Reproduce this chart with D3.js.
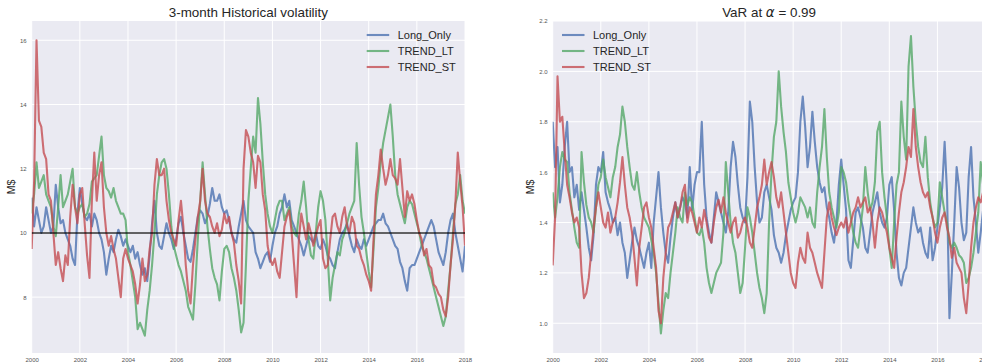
<!DOCTYPE html>
<html>
<head>
<meta charset="utf-8">
<script src="https://cdn.jsdelivr.net/npm/d3@7/dist/d3.min.js"></script>
<style>
  body { margin: 0; background: #fff; }
  svg { display: block; }
  text { font-family: "Liberation Sans", Arial, sans-serif; }
</style>
</head>
<body>
<svg id="chart" width="982" height="364"></svg>
<script>
// --- data, one value every 0.1 year from 2000.0 to 2018.0 ---
const seriesNames = ["Long_Only", "TREND_LT", "TREND_ST"];
const startYear = 2000;
const stepYear = 0.1;
const xTicks = [2000, 2002, 2004, 2006, 2008, 2010, 2012, 2014, 2016, 2018];
const volTicks = [8, 10, 12, 14, 16];
const varTicks = [1.0, 1.2, 1.4, 1.6, 1.8, 2.0, 2.2];
const volTarget = 10;

// 3-month historical volatility (M$)
const volLongOnly = [
  11.1, 10.2, 10.8, 10.4, 10.0, 10.2, 10.8, 10.4, 10.0, 10.2,
  11.5, 10.8, 10.3, 10.4, 10.0, 9.8, 9.6, 9.2, 9.0, 10.6,
  11.4, 10.9, 10.5, 10.4, 10.6, 10.2, 10.6, 10.4, 10.0, 9.8,
  9.4, 8.7, 9.2, 9.6, 9.4, 9.8, 10.1, 9.9, 9.6, 9.8,
  9.6, 9.4, 9.6, 9.2, 9.4, 9.0, 8.7, 8.9, 8.5, 9.3,
  10.3, 11.0, 10.0, 9.6, 9.5, 9.9, 10.3, 10.0, 9.8, 9.5,
  9.8, 10.3, 10.5, 10.0, 9.6, 9.2, 9.1, 9.5, 10.0, 10.5,
  10.7, 10.6, 10.3, 10.5, 10.9, 11.4, 11.0, 11.0, 11.2, 10.8,
  10.6, 10.7, 10.4, 10.0, 9.8, 9.7, 10.2, 10.6, 11.0, 10.4,
  10.2, 10.1, 10.0, 9.4, 9.2, 8.9, 9.1, 9.3, 9.4, 9.1,
  9.6, 10.0, 10.2, 10.6, 10.8, 11.2, 10.8, 11.0, 10.4, 10.2,
  10.0, 9.8, 9.6, 9.3, 9.6, 9.9, 9.8, 9.7, 10.0, 9.6,
  9.5, 9.8, 9.6, 9.3, 9.2, 9.0, 8.9, 9.4, 9.8, 10.0,
  10.1, 10.3, 9.9, 9.6, 9.4, 9.8, 9.6, 9.5, 9.8, 9.6,
  9.8, 10.0, 10.2, 10.3, 10.4, 10.4, 10.6, 10.3, 10.2, 10.0,
  9.8, 9.6, 9.5, 9.1, 8.9, 8.5, 8.2, 8.9, 9.0, 9.0,
  9.2, 9.4, 9.6, 9.8, 10.0, 10.2, 10.4, 10.2, 9.8, 9.4,
  9.2, 9.0, 9.4, 10.0, 10.4, 10.6, 10.0, 9.6, 9.2, 8.8,
  9.6
];
const volTrendLT = [
  10.6, 11.2, 12.2, 11.4, 11.6, 11.8, 11.2, 11.0, 10.8, 10.2,
  9.9, 10.8, 11.8, 10.8, 11.0, 11.2, 11.6, 12.0, 10.8, 10.6,
  10.8, 10.9, 10.5, 10.6, 10.9, 11.6, 11.7, 11.8, 12.4, 13.0,
  11.8, 11.4, 11.3, 11.1, 11.4, 11.0, 10.8, 10.6, 10.6, 10.4,
  9.4, 9.0, 8.5, 8.0, 7.0, 7.2, 7.0, 6.8, 7.6, 8.2,
  9.0, 10.0, 11.2, 11.8, 12.2, 12.3, 12.0, 11.2, 10.2, 9.6,
  9.3, 9.0, 8.8, 8.5, 8.2, 7.7, 7.5, 7.3, 8.4, 9.8,
  11.0, 12.2, 11.2, 10.2, 9.5, 8.9, 8.6, 8.4, 7.9, 8.8,
  9.5, 9.6, 9.4, 8.9, 8.6, 8.2, 7.6, 6.9, 7.2, 9.0,
  11.0, 12.0, 13.0, 12.5, 14.2, 13.4, 12.2, 11.2, 10.6, 10.2,
  10.0, 10.4, 10.8, 11.0, 11.0, 10.4, 10.6, 10.8, 10.2, 10.0,
  9.9, 10.6, 11.0, 11.6, 10.8, 9.8, 9.3, 9.2, 10.0, 10.8,
  11.3, 11.0, 10.4, 9.2, 7.9, 8.6, 9.0, 9.4, 9.3, 9.8,
  10.0, 10.3, 10.6, 10.8, 11.0, 12.8, 11.5, 10.5, 10.0, 9.4,
  8.8, 8.3, 9.5, 10.8, 11.4, 12.2, 12.8, 13.2, 13.6, 14.0,
  13.0, 11.8, 11.2, 10.9, 10.6, 10.3, 10.8, 11.0, 10.9, 10.6,
  10.3, 10.0, 9.6, 9.4, 9.2, 8.9, 8.6, 8.3, 8.0, 7.7,
  7.4, 7.1, 7.4, 8.2, 9.0, 10.0, 10.9, 11.2, 11.8, 11.0,
  10.6
];
const volTrendST = [
  9.5, 11.6, 16.0, 13.5, 13.3, 12.5, 12.3, 11.2, 11.0, 10.0,
  9.0, 9.4, 8.9, 8.5, 9.3, 9.0, 10.5, 11.5, 10.8, 10.3,
  11.2, 11.4, 10.3, 9.3, 8.6, 11.0, 12.5, 11.0, 11.8, 12.2,
  10.8, 10.0, 9.6, 9.9, 9.5, 9.2, 8.6, 8.0, 9.2, 9.5,
  9.2, 9.0, 8.8, 8.4, 7.8, 8.4, 9.2, 8.5, 8.7, 9.5,
  10.0, 11.5, 12.3, 11.8, 11.8, 12.0, 11.0, 10.4, 10.0, 9.8,
  9.6, 10.4, 11.0, 10.2, 9.0, 8.2, 7.8, 9.0, 9.8, 10.5,
  11.0, 12.0, 11.0, 10.6, 10.5, 10.2, 10.0, 10.3, 9.9, 10.1,
  10.6, 10.3, 10.5, 10.0, 9.7, 9.0, 8.5, 7.8, 12.0, 13.2,
  13.0, 12.5, 12.2, 11.4, 12.4, 12.2, 11.2, 10.7, 9.6, 9.2,
  9.0, 9.2, 8.8, 8.6, 9.4, 10.2, 10.5, 10.7, 10.0, 9.0,
  8.0, 9.8, 10.6, 10.2, 9.8, 10.3, 10.0, 9.6, 9.9, 10.2,
  10.4, 9.2, 8.9, 9.0, 9.8, 10.5, 10.6, 10.2, 10.0, 10.5,
  10.8, 10.2, 10.0, 10.5, 10.3, 9.6, 9.5, 9.2, 9.0, 8.7,
  8.5, 8.2, 9.8, 11.2, 11.8, 12.6, 12.0, 11.5, 11.8, 12.3,
  11.8, 11.7, 11.5, 12.3, 11.4, 10.5, 11.3, 11.0, 11.2, 10.9,
  10.4, 10.0, 9.8, 9.3, 9.5, 9.0, 8.9, 8.4, 8.3, 8.1,
  8.0, 7.6, 7.4, 8.0, 9.0, 9.8, 10.9, 12.5, 11.6, 10.8,
  9.6
];

// VaR at alpha = 0.99 (M$)
const varLongOnly = [
  1.80, 1.62, 1.70, 1.48, 1.55, 1.70, 1.80, 1.60, 1.62, 1.50,
  1.55, 1.45, 1.52, 1.45, 1.38, 1.30, 1.25, 1.35, 1.55, 1.62,
  1.60, 1.68, 1.52, 1.48, 1.45, 1.40, 1.42, 1.35, 1.40, 1.32,
  1.28, 1.18, 1.25, 1.32, 1.38, 1.33, 1.30, 1.26, 1.22, 1.28,
  1.32, 1.22, 1.40, 1.50, 1.60, 1.46, 1.36, 1.28, 1.24, 1.34,
  1.42, 1.48, 1.42, 1.46, 1.50, 1.48, 1.42, 1.62, 1.45, 1.55,
  1.60, 1.60, 1.80, 1.55, 1.42, 1.36, 1.32, 1.42, 1.52, 1.48,
  1.44, 1.40, 1.36, 1.44, 1.62, 1.72, 1.66, 1.55, 1.46, 1.42,
  1.40, 1.58, 1.88, 1.80, 1.62, 1.48, 1.40, 1.42, 1.52, 1.55,
  1.50, 1.45, 1.35, 1.30, 1.28, 1.24, 1.28, 1.35, 1.40, 1.45,
  1.48, 1.50, 1.60, 1.80, 1.90, 1.78, 1.62, 1.70, 1.84, 1.72,
  1.62, 1.56, 1.52, 1.54, 1.46, 1.42, 1.36, 1.32, 1.40, 1.55,
  1.65, 1.55, 1.45, 1.25, 1.22, 1.33, 1.44, 1.46, 1.42, 1.38,
  1.30, 1.28, 1.36, 1.44, 1.48, 1.52, 1.44, 1.40, 1.38, 1.42,
  1.55, 1.58, 1.45, 1.28, 1.18, 1.15, 1.20, 1.22, 1.30, 1.38,
  1.46, 1.40, 1.36, 1.38, 1.32, 1.28, 1.26, 1.38, 1.25, 1.30,
  1.38, 1.46, 1.54, 1.72, 1.52, 1.02, 1.20, 1.40, 1.62, 1.54,
  1.40, 1.33, 1.36, 1.58, 1.70, 1.50, 1.40, 1.28, 1.36, 1.45,
  1.40
];
const varTrendLT = [
  1.52, 1.42, 1.50, 1.62, 1.68, 1.65, 1.64, 1.52, 1.45, 1.38,
  1.32, 1.30, 1.68, 1.56, 1.47, 1.42, 1.40, 1.36, 1.46, 1.55,
  1.58, 1.65, 1.58, 1.54, 1.50, 1.58, 1.62, 1.70, 1.75, 1.86,
  1.80, 1.70, 1.62, 1.55, 1.53, 1.60, 1.52, 1.46, 1.42, 1.40,
  1.38, 1.33, 1.28, 1.20, 1.08, 0.96, 1.05, 1.12, 1.10, 1.20,
  1.28, 1.36, 1.46, 1.42, 1.40, 1.52, 1.47, 1.50, 1.48, 1.42,
  1.36, 1.35, 1.38, 1.32, 1.22, 1.16, 1.12, 1.16, 1.20, 1.22,
  1.24, 1.36, 1.64, 1.52, 1.40, 1.32, 1.28, 1.20, 1.12, 1.16,
  1.30, 1.46, 1.42, 1.36, 1.28, 1.20, 1.14, 1.10, 1.04, 1.12,
  1.40, 1.60, 1.74, 1.80, 2.00, 1.86, 1.76, 1.68, 1.56, 1.50,
  1.44, 1.40, 1.44, 1.50, 1.48, 1.46, 1.42, 1.46, 1.40, 1.38,
  1.52, 1.62, 1.70, 1.85, 1.66, 1.52, 1.46, 1.42, 1.38, 1.44,
  1.62, 1.60, 1.56, 1.48, 1.42, 1.36, 1.32, 1.30, 1.38, 1.46,
  1.62, 1.52, 1.45, 1.48, 1.56, 1.76, 1.80, 1.60, 1.50, 1.42,
  1.30, 1.22, 1.40, 1.55, 1.60, 1.88, 1.74, 1.65, 2.02, 2.14,
  1.94, 1.80, 1.70, 1.64, 1.62, 1.74, 1.58, 1.48, 1.42, 1.38,
  1.40, 1.56, 1.50, 1.44, 1.40, 1.32, 1.30, 1.32, 1.30, 1.27,
  1.26, 1.24, 1.16, 1.18, 1.22, 1.28, 1.36, 1.44, 1.64, 1.55,
  1.50
];
const varTrendST = [
  1.23, 1.42, 1.98, 1.80, 1.82, 1.68, 1.55, 1.50, 1.44, 1.40,
  1.42, 1.38, 1.20, 1.10, 1.12, 1.18, 1.28, 1.38, 1.46, 1.52,
  1.46, 1.40, 1.38, 1.44, 1.36, 1.40, 1.42, 1.48, 1.56, 1.66,
  1.55, 1.46, 1.42, 1.36, 1.26, 1.15, 1.30, 1.38, 1.46, 1.48,
  1.42, 1.38, 1.30, 1.22, 1.05, 1.00, 1.18, 1.28, 1.38, 1.40,
  1.44, 1.48, 1.42, 1.46, 1.52, 1.55, 1.40, 1.46, 1.44, 1.40,
  1.36, 1.42, 1.38, 1.45, 1.40, 1.34, 1.32, 1.40, 1.46, 1.49,
  1.44, 1.50, 1.44, 1.40, 1.36, 1.40, 1.42, 1.34, 1.36, 1.40,
  1.42, 1.38, 1.32, 1.30, 1.38, 1.46, 1.50, 1.55, 1.65, 1.55,
  1.60, 1.64, 1.58, 1.50, 1.46, 1.52, 1.44, 1.36, 1.28, 1.20,
  1.16, 1.14, 1.24, 1.30, 1.26, 1.24, 1.36, 1.30, 1.28, 1.24,
  1.20, 1.17, 1.14, 1.28, 1.42, 1.48, 1.42, 1.38, 1.35, 1.38,
  1.40, 1.38, 1.42, 1.36, 1.40, 1.44, 1.46, 1.50, 1.46, 1.48,
  1.50, 1.44, 1.46, 1.40, 1.30, 1.40, 1.46, 1.44, 1.40, 1.36,
  1.30, 1.26, 1.22, 1.34, 1.44, 1.52, 1.56, 1.62, 1.70, 1.66,
  1.85, 1.70, 1.62, 1.56, 1.52, 1.50, 1.52, 1.46, 1.42, 1.36,
  1.32, 1.38, 1.42, 1.44, 1.38, 1.34, 1.26, 1.30, 1.24, 1.22,
  1.20, 1.10, 1.04, 1.16, 1.30, 1.40, 1.46, 1.50, 1.48, 1.52,
  1.50
];

const colors = ["#4C72B0", "#55A868", "#C44E52"];

const svg = d3.select("#chart");

function drawPanel(opt) {
  const x = d3.scaleLinear().domain([2000, 2018]).range([opt.left, opt.right]);
  const y = d3.scaleLinear().domain(opt.yDomain).range([opt.bottom, opt.top]);
  const w = opt.right - opt.left, h = opt.bottom - opt.top;

  const g = svg.append("g");
  g.append("rect")
    .attr("x", opt.left).attr("y", opt.top)
    .attr("width", w).attr("height", h)
    .attr("fill", "#EAEAF2");

  // grid
  g.append("g").selectAll("line").data(xTicks).enter().append("line")
    .attr("x1", d => x(d)).attr("x2", d => x(d))
    .attr("y1", opt.top).attr("y2", opt.bottom)
    .attr("stroke", "#fff").attr("stroke-width", 1);
  g.append("g").selectAll("line").data(opt.yTicks).enter().append("line")
    .attr("x1", opt.left).attr("x2", opt.right)
    .attr("y1", d => y(d)).attr("y2", d => y(d))
    .attr("stroke", "#fff").attr("stroke-width", 1);

  // axes (labels only, seaborn darkgrid has no spines)
  const xAxis = g.append("g")
    .attr("transform", `translate(0,${opt.bottom})`)
    .call(d3.axisBottom(x).tickValues(xTicks).tickFormat(d3.format("d")).tickSize(0).tickPadding(5));
  const yAxis = g.append("g")
    .attr("transform", `translate(${opt.left},0)`)
    .call(d3.axisLeft(y).tickValues(opt.yTicks).tickFormat(opt.yFormat).tickSize(0).tickPadding(5));
  [xAxis, yAxis].forEach(a => {
    a.select(".domain").remove();
    a.selectAll("text")
      .attr("fill", "#555")
      .style("font-size", "6px")
      .style("font-family", '"Liberation Sans", Arial, sans-serif');
  });

  const clipId = "clip" + opt.id;
  svg.append("clipPath").attr("id", clipId).append("rect")
    .attr("x", opt.left).attr("y", opt.top).attr("width", w).attr("height", h);

  const line = d3.line()
    .x((d, i) => x(startYear + i * stepYear))
    .y(d => y(d));

  const plot = g.append("g").attr("clip-path", `url(#${clipId})`);
  opt.series.forEach((s, k) => {
    plot.append("path")
      .datum(s)
      .attr("d", line)
      .attr("fill", "none")
      .attr("stroke", colors[k])
      .attr("stroke-width", 2.1)
      .attr("stroke-opacity", 0.8)
      .attr("stroke-linejoin", "round");
  });

  if (opt.hline !== undefined) {
    plot.append("line")
      .attr("x1", opt.left).attr("x2", opt.right)
      .attr("y1", y(opt.hline)).attr("y2", y(opt.hline))
      .attr("stroke", "#000").attr("stroke-opacity", 0.6)
      .attr("stroke-width", 2);
  }

  // title
  const t = g.append("text")
    .attr("x", (opt.left + opt.right) / 2)
    .attr("y", 17)
    .attr("text-anchor", "middle")
    .attr("fill", "#262626")
    .style("font-size", "13.4px");
  opt.title(t);

  // y label
  g.append("text")
    .attr("transform", `translate(${opt.yLabelX},${(opt.top + opt.bottom) / 2}) rotate(-90)`)
    .attr("text-anchor", "middle")
    .attr("fill", "#262626")
    .style("font-size", "10.5px")
    .text("M$");

  // legend
  const lg = g.append("g").attr("transform", `translate(${opt.legendX},35)`);
  seriesNames.forEach((name, k) => {
    const row = lg.append("g").attr("transform", `translate(0,${k * 16})`);
    row.append("line")
      .attr("x1", 0).attr("x2", 22.5)
      .attr("stroke", colors[k]).attr("stroke-opacity", 0.8)
      .attr("stroke-width", 2.1);
    row.append("text")
      .attr("x", 31).attr("y", 4)
      .attr("fill", "#262626")
      .style("font-size", "11px")
      .text(name);
  });
}

drawPanel({
  id: "vol",
  left: 31.7, right: 465, top: 21, bottom: 353,
  yDomain: [6.26, 16.6],
  yTicks: volTicks,
  yFormat: d3.format("d"),
  series: [volLongOnly, volTrendLT, volTrendST],
  hline: volTarget,
  yLabelX: 15,
  legendX: 366.7,
  title: t => t.text("3-month Historical volatility")
});

drawPanel({
  id: "var",
  left: 552.7, right: 985.5, top: 21, bottom: 353,
  yDomain: [0.882, 2.2],
  yTicks: varTicks,
  yFormat: d3.format(".1f"),
  series: [varLongOnly, varTrendLT, varTrendST],
  yLabelX: 534,
  legendX: 562,
  title: t => {
    t.append("tspan").text("VaR at ");
    t.append("tspan").style("font-style", "italic").style("font-family", '"DejaVu Sans", sans-serif').text("α");
    t.append("tspan").text(" = 0.99");
  }
});
</script>
</body>
</html>
